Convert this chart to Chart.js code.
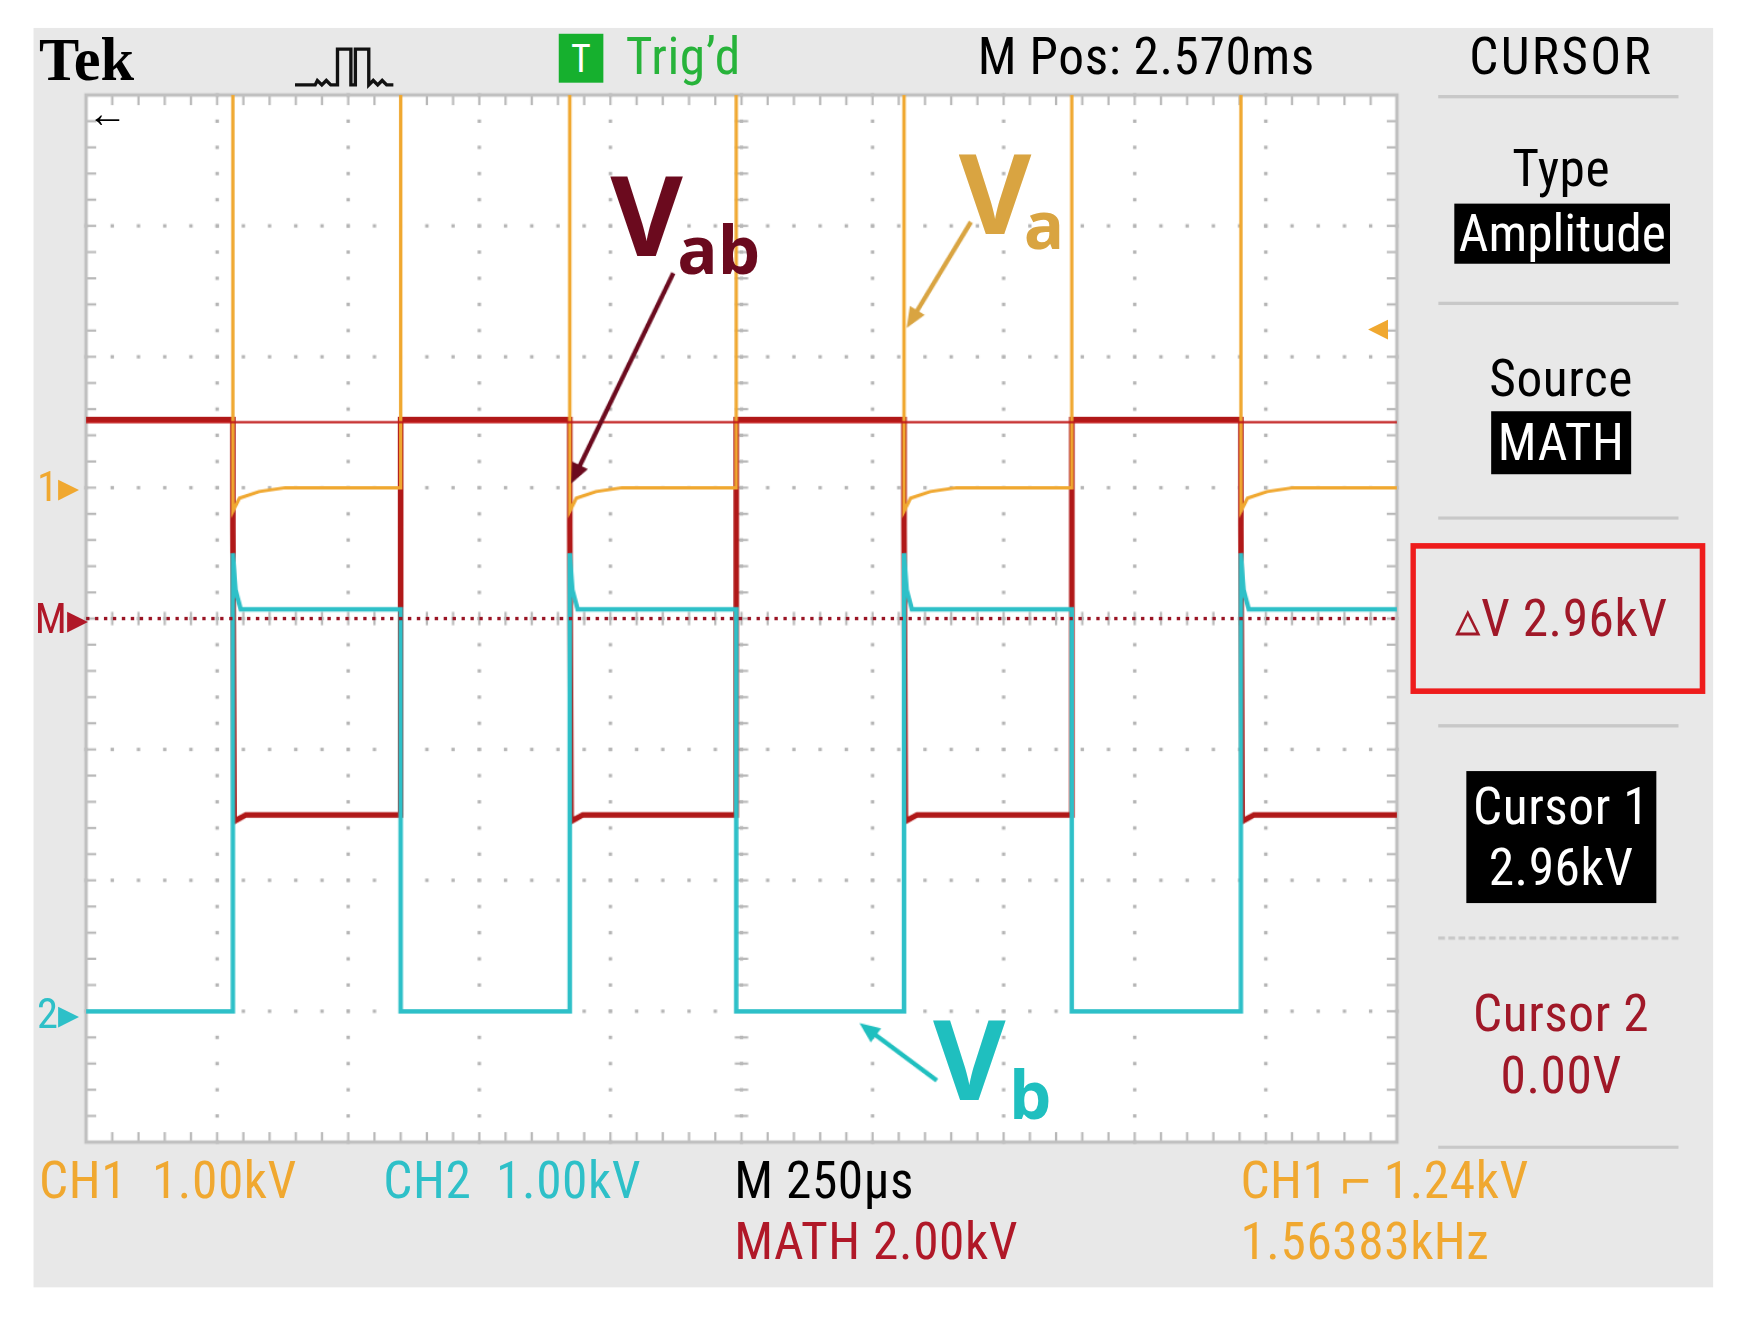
<!DOCTYPE html>
<html><head><meta charset="utf-8">
<script src="https://cdn.jsdelivr.net/npm/chart.js@4"></script>
<style>
html,body{margin:0;padding:0;background:#fff;width:1745px;height:1339px;overflow:hidden}
#wrap{position:absolute;left:0;top:0;width:1562px;height:1199px;transform:scale(1.1175);transform-origin:0 0}
#panel{position:absolute;left:30px;top:25px;width:1503px;height:1127px;background:#e8e8e8}
canvas{position:absolute;left:0;top:0}
.t{position:absolute;font-family:"Liberation Sans Narrow","Roboto Condensed","Liberation Sans",sans-serif;font-size:46px;letter-spacing:0.5px;white-space:nowrap;line-height:1}
.c{text-align:center;transform:translateX(-50%)}
.sep{position:absolute;left:1287px;width:215px;height:0;border-top:3px solid #c8c8c8}
.big{position:absolute;font-family:"Open Sans","DejaVu Sans",sans-serif;font-weight:bold;line-height:1}
</style></head><body>
<div id="wrap">
<div id="panel"></div>
<canvas id="c" width="1562" height="1199"></canvas>
<div class="t" style="left:35px;top:27px;font-family:'Liberation Serif',serif;font-weight:bold;font-size:54px;letter-spacing:0">Tek</div>
<svg style="position:absolute;left:262px;top:40px" width="92" height="40"><polyline points="2,36 20,36 22,32 26,36 30,32 34,36 40,36 40,4 52,4 52,36 56,36 56,4 68,4 68,36 72,32 76,36 80,32 84,36 90,36" fill="none" stroke="#111" stroke-width="3"/></svg>
<div class="t" style="left:500px;top:30px;width:40px;height:44px;background:#16b02e;color:#fff;font-size:34px;text-align:center;line-height:44px">T</div>
<div class="t" style="left:560px;top:27px;color:#27b33a">Trig’d</div>
<div class="t" style="left:875px;top:27px">M Pos: 2.570ms</div>
<div class="t c" style="left:1397px;top:27px;letter-spacing:2px">CURSOR</div>
<div class="sep" style="top:85px"></div>
<div class="t c" style="left:1397px;top:127px">Type</div>
<div class="t c" style="left:1398px;top:182px;background:#000;color:#fff;padding:4px 4px;letter-spacing:0">Amplitude</div>
<div class="sep" style="top:270px"></div>
<div class="t c" style="left:1397px;top:315px">Source</div>
<div class="t c" style="left:1397px;top:368px;background:#000;color:#fff;padding:5px 6px">MATH</div>
<div class="sep" style="top:462px"></div>
<div style="position:absolute;left:1262px;top:486px;width:254px;height:125px;border:5px solid #ee1c1c"></div>
<div class="t c" style="left:1397px;top:530px;color:#a01828">▵V 2.96kV</div>
<div class="sep" style="top:648px"></div>
<div class="t c" style="left:1397px;top:690px;background:#000;color:#fff;padding:4px 6px;text-align:center;line-height:1.2">Cursor 1<br>2.96kV</div>
<div class="sep" style="top:838px;border-top-style:dashed;border-top-width:3px"></div>
<div class="t c" style="left:1397px;top:880px;color:#a01828;text-align:center;line-height:1.2">Cursor 2<br>0.00V</div>
<div class="sep" style="top:1025px"></div>
<div class="t" style="left:35px;top:1033px;color:#f0a830">CH1&nbsp;&nbsp;1.00kV</div>
<div class="t" style="left:343px;top:1033px;color:#2ec0c8">CH2&nbsp;&nbsp;1.00kV</div>
<div class="t" style="left:657px;top:1033px">M 250µs</div>
<div class="t" style="left:657px;top:1088px;color:#b01828">MATH 2.00kV</div>
<div class="t" style="left:1110px;top:1033px;color:#f0a830">CH1 ⌐ 1.24kV</div>
<div class="t" style="left:1110px;top:1088px;color:#f0a830">1.56383kHz</div>
<div class="t" style="left:33px;top:416px;color:#f0a830;font-size:38px">1▸</div>
<div class="t" style="left:31px;top:534px;color:#b01828;font-size:38px">M▸</div>
<div class="t" style="left:33px;top:888px;color:#2ec0c8;font-size:38px">2▸</div>
<div class="t" style="left:1224px;top:274px;color:#f0a830;font-size:36px">◂</div>
<div class="t" style="left:78px;top:84px;font-size:36px;font-weight:bold">←</div>
<div class="big" style="left:546px;top:140px;font-size:100px;color:#6b0a1e">V</div>
<div class="big" style="left:606px;top:192px;font-size:60px;color:#6b0a1e">ab</div>
<div class="big" style="left:858px;top:120px;font-size:100px;color:#d9a441">V</div>
<div class="big" style="left:916px;top:170px;font-size:60px;color:#d9a441">a</div>
<div class="big" style="left:835px;top:895px;font-size:100px;color:#1fbfbf">V</div>
<div class="big" style="left:903px;top:948px;font-size:60px;color:#1fbfbf">b</div>
</div>
<script>
// in divisions (10 x 8)
const edges = [1.12, 2.40, 3.69, 4.96, 6.24, 7.52, 8.81];
const vaHigh = 9.5, vaLow = 5.0, vaDip = 4.82;
const vbHigh = 4.07, vbLow = 1.0, vbSpike = 4.5;
const vabHigh = 5.52, vabLow = 2.5, vabDrop = 4.7;
const cursor1 = 5.5, mathZero = 4.0;
// arrows: [fromX, fromY, toX, toY] in divisions
const arrows = [
  {c: '#6b0a1e', p: [4.48, 6.64, 3.70, 5.03]},
  {c: '#d9a441', p: [6.75, 7.03, 6.26, 6.22]},
  {c: '#1fbfbf', p: [6.49, 0.47, 5.90, 0.91]}
];

function steps(hiFirst, hi, lo, extra) {
  const pts = [];
  let high = hiFirst;
  pts.push({x: 0, y: high ? hi : lo});
  edges.forEach(e => {
    pts.push({x: e, y: high ? hi : lo});
    high = !high;
    extra(pts, e, high);
  });
  pts.push({x: 10, y: high ? hi : lo});
  return pts;
}
const va = steps(true, vaHigh, vaLow, (p, e, h) => {
  if (h) p.push({x: e, y: vaHigh});
  else { p.push({x: e, y: vaDip}); p.push({x: e + 0.05, y: vaDip + 0.1}); p.push({x: e + 0.2, y: vaLow - 0.03}); p.push({x: e + 0.4, y: vaLow}); }
});
const vb = steps(false, vbHigh, vbLow, (p, e, h) => {
  if (h) { p.push({x: e, y: vbSpike}); p.push({x: e + 0.02, y: vbHigh + 0.15}); p.push({x: e + 0.06, y: vbHigh}); }
  else p.push({x: e, y: vbLow});
});
const vab = steps(true, vabHigh, vabLow, (p, e, h) => {
  if (h) p.push({x: e, y: vabHigh});
  else { p.push({x: e, y: vabDrop}); p.push({x: e + 0.01, y: vabLow - 0.05}); p.push({x: e + 0.1, y: vabLow}); }
});

const scope = {
  id: 'scope',
  beforeDatasetsDraw(ch) {
    const a = ch.chartArea, g = ch.ctx, xs = ch.scales.x, ys = ch.scales.y;
    g.save();
    g.fillStyle = '#fff'; g.fillRect(a.left, a.top, a.right - a.left, a.bottom - a.top);
    g.fillStyle = '#b4b4b4';
    for (let i = 1; i < 10; i++) for (let j = 0; j <= 40; j++)
      g.fillRect(xs.getPixelForValue(i) - 1.5, ys.getPixelForValue(j / 5) - 1.5, 3, 3);
    for (let j = 1; j < 8; j++) for (let i = 0; i <= 50; i++)
      g.fillRect(xs.getPixelForValue(i / 5) - 1.5, ys.getPixelForValue(j) - 1.5, 3, 3);
    g.strokeStyle = '#b8b8b8'; g.lineWidth = 2;
    const tick = (x1, y1, x2, y2) => { g.beginPath(); g.moveTo(x1, y1); g.lineTo(x2, y2); g.stroke(); };
    for (let i = 1; i < 50; i++) {
      const x = xs.getPixelForValue(i / 5), yc = ys.getPixelForValue(4);
      tick(x, yc - 6, x, yc + 6); tick(x, a.top, x, a.top + 9); tick(x, a.bottom, x, a.bottom - 9);
    }
    for (let j = 1; j < 40; j++) {
      const y = ys.getPixelForValue(j / 5), xc = xs.getPixelForValue(5);
      tick(xc - 6, y, xc + 6, y); tick(a.left, y, a.left + 9, y); tick(a.right, y, a.right - 9, y);
    }
    g.strokeStyle = '#c0c0c0'; g.lineWidth = 3;
    g.strokeRect(a.left, a.top, a.right - a.left, a.bottom - a.top);
    g.restore();
  },
  afterDraw(ch) {
    const g = ch.ctx, xs = ch.scales.x, ys = ch.scales.y;
    arrows.forEach(ar => {
      const [x1, y1, x2, y2] = ar.p;
      const X1 = xs.getPixelForValue(x1), Y1 = ys.getPixelForValue(y1);
      const X2 = xs.getPixelForValue(x2), Y2 = ys.getPixelForValue(y2);
      const ang = Math.atan2(Y2 - Y1, X2 - X1);
      g.strokeStyle = ar.c; g.fillStyle = ar.c; g.lineWidth = 4;
      g.beginPath(); g.moveTo(X1, Y1); g.lineTo(X2 - 10 * Math.cos(ang), Y2 - 10 * Math.sin(ang)); g.stroke();
      g.beginPath(); g.moveTo(X2, Y2);
      g.lineTo(X2 - 20 * Math.cos(ang - 0.4), Y2 - 20 * Math.sin(ang - 0.4));
      g.lineTo(X2 - 20 * Math.cos(ang + 0.4), Y2 - 20 * Math.sin(ang + 0.4));
      g.closePath(); g.fill();
    });
  }
};

new Chart(document.getElementById('c'), {
  type: 'line',
  data: {
    datasets: [
      {label: 'cursor1', data: [{x: 0, y: cursor1}, {x: 10, y: cursor1}], borderColor: '#c01818', borderWidth: 2},
      {label: 'cursor2', data: [{x: 0, y: mathZero}, {x: 10, y: mathZero}], borderColor: '#9a1424', borderWidth: 3, borderDash: [3, 5]},
      {label: 'Va', data: va, borderColor: '#f0a830', borderWidth: 3},
      {label: 'Vb', data: vb, borderColor: '#2ec0c8', borderWidth: 4},
      {label: 'Vab', data: vab, borderColor: '#b01818', borderWidth: 5}
    ]
  },
  options: {
    responsive: false, animation: false,
    layout: {padding: {left: 69, top: 85, right: 312, bottom: 169}},
    elements: {point: {radius: 0}, line: {tension: 0}},
    plugins: {legend: {display: false}, tooltip: {enabled: false}},
    scales: {
      x: {type: 'linear', min: 0, max: 10, ticks: {display: false}, grid: {display: false}, border: {display: false}},
      y: {min: 0, max: 8, ticks: {display: false}, grid: {display: false}, border: {display: false}}
    }
  },
  plugins: [scope]
});
</script>
</body></html>
